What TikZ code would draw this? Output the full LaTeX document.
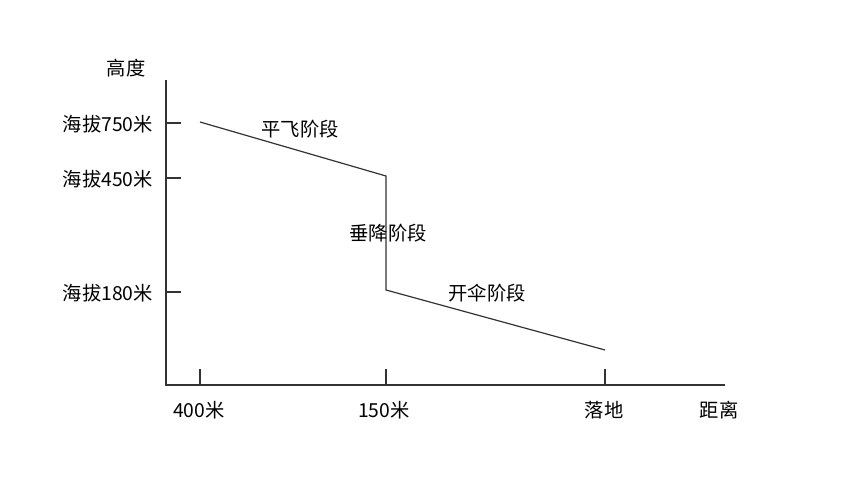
\documentclass[tikz,border=0pt]{standalone}
\usepackage{fontspec}
\setmainfont{Noto Sans CJK SC}
\begin{document}
\begin{tikzpicture}[x=1pt,y=-1pt,
  ax/.style={draw=black!80,line width=1.3pt},
  lbl/.style={font=\fontsize{19.3}{21}\selectfont,inner sep=0pt,text=black}]
\useasboundingbox[fill=white] (0,0) rectangle (855,500);
% axes
\coordinate (O) at (166,385);
\coordinate (Ytop) at (166,80);
\coordinate (Xend) at (725,385);
\draw[ax] (Ytop) -- (O) -- (Xend);
% y ticks
\foreach \n/\y in {a/123,b/178,c/292}{
  \coordinate (yt\n) at (166,\y);
  \coordinate (ye\n) at (181,\y);
  \draw[ax] (yt\n) -- (ye\n);
}
% x ticks
\foreach \n/\x in {a/200,b/386,c/605}{
  \coordinate (xt\n) at (\x,385);
  \coordinate (xe\n) at (\x,369);
  \draw[ax] (xt\n) -- (xe\n);
}
% path
\coordinate (P1) at (200,122);
\coordinate (P2) at (386,176);
\coordinate (P3) at (386,290);
\coordinate (P4) at (605,350);
\draw[ax,line width=1.2pt] (P1) -- (P2) -- (P3) -- (P4);
% labels
\node[lbl] (hd) at (126,68) {高度};
\node[lbl,anchor=east] (l750) at (153,124) {海拔750米};
\node[lbl,anchor=east] (l450) at (153,179) {海拔450米};
\node[lbl,anchor=east] (l180) at (153,293) {海拔180米};
\node[lbl] (d400) at (199,410) {400米};
\node[lbl] (d150) at (384,410) {150米};
\node[lbl] (dld) at (604,410) {落地};
\node[lbl] (dist) at (719,410) {距离};
\node[lbl] (s1) at (300,129) {平飞阶段};
\node[lbl] (s2) at (388,233) {垂降阶段};
\node[lbl] (s3) at (487,293) {开伞阶段};
\end{tikzpicture}
\end{document}
